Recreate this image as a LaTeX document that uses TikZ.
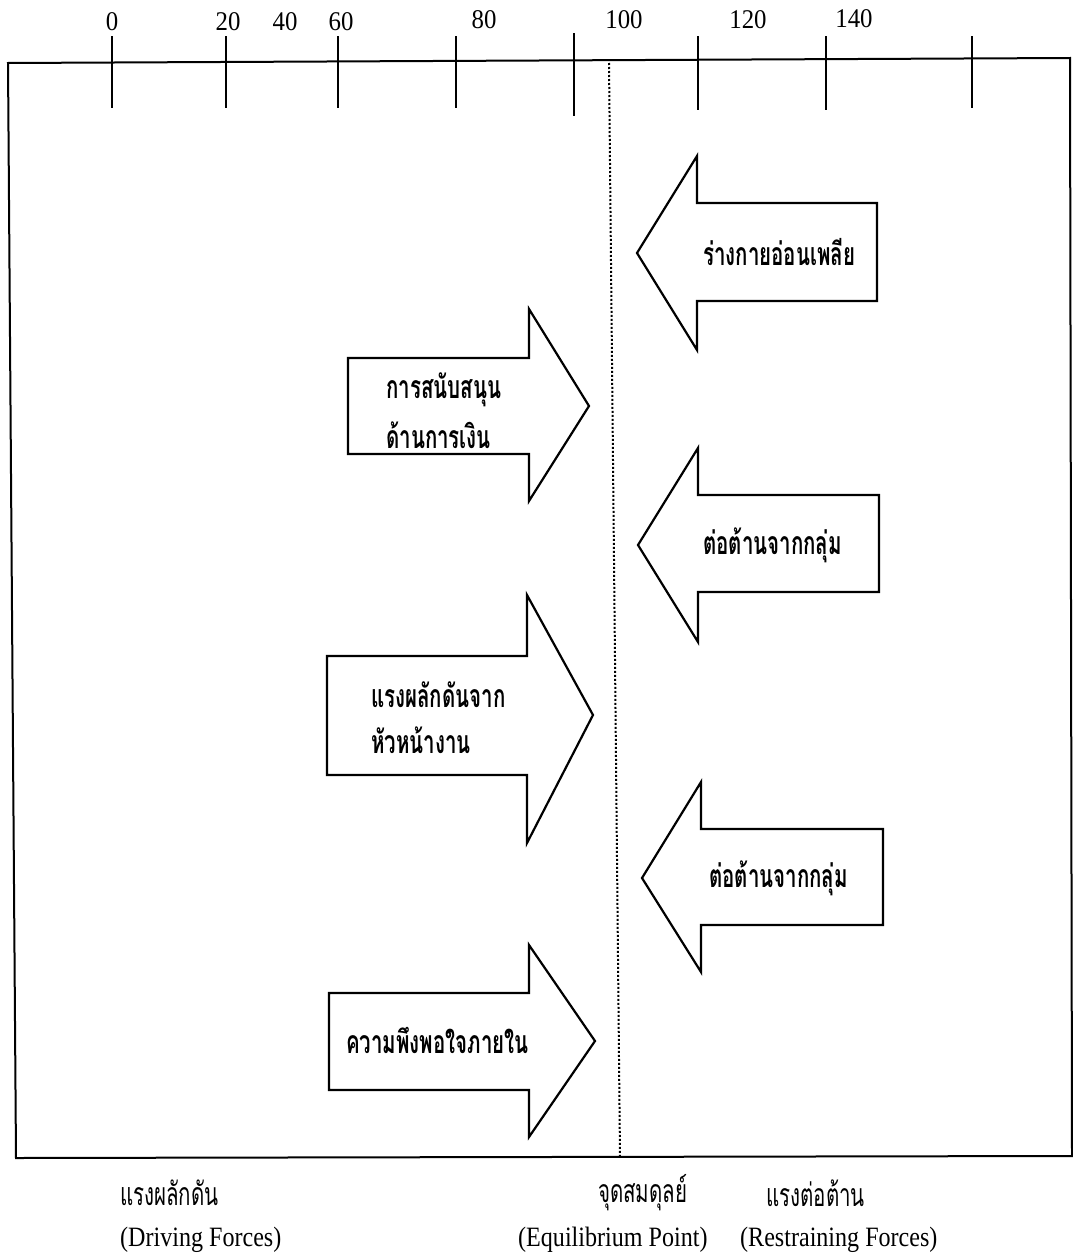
\documentclass[tikz,border=0pt]{standalone}
\usepackage{fontspec}
\setmainfont{Liberation Serif}[FakeStretch=0.86]
\newfontfamily\numfont{Liberation Serif}[FakeStretch=0.92]
\newfontfamily\thaifont[Script=Thai,FakeStretch=0.64]{Loma}
\begin{document}
\begin{tikzpicture}[x=1pt,y=-1pt,
  frameline/.style={line width=2pt},
  tickline/.style={line width=2pt},
  forcearrow/.style={line width=2.2pt, line join=miter, fill=white},
  numlabel/.style={font=\numfont\fontsize{27}{28}\selectfont, inner sep=0pt},
  arrowtext/.style={font=\thaifont\bfseries\fontsize{32}{34}\selectfont, inner sep=0pt, anchor=west},
  thailabel/.style={font=\thaifont\fontsize{32}{34}\selectfont, inner sep=0pt, anchor=west},
  englabel/.style={font=\fontsize{28}{29}\selectfont, inner sep=0pt, anchor=west}]
\useasboundingbox (0,0) rectangle (1073,1258);
\fill[white] (0,0) rectangle (1073,1258);
% frame
\draw[frameline] (8,63) -- (1070,58) -- (1072,1156) -- (16,1158) -- cycle;
% ticks
\foreach \x/\a/\b in {112/36/108, 226/36/108, 338/36/108, 456/36/108, 574/33/116, 698/36/110, 826/36/110, 972/36/108}
  \draw[tickline] (\x,\a) -- (\x,\b);
% numbers
\node[numlabel] (n0) at (112,22) {0};
\node[numlabel] (n20) at (228,22) {20};
\node[numlabel] (n40) at (285,22) {40};
\node[numlabel] (n60) at (341,22) {60};
\node[numlabel] (n80) at (484,20) {80};
\node[numlabel] (n100) at (624,20) {100};
\node[numlabel] (n120) at (748,20) {120};
\node[numlabel] (n140) at (854,19) {140};
% equilibrium line
\draw[line width=2pt, dotted] (609,63) -- (620,1157);
% driving arrows
\draw[forcearrow] (348,358) -- (529,358) -- (529,309) -- (589,406) -- (529,501) -- (529,454) -- (348,454) -- cycle;
\draw[forcearrow] (327,656) -- (527,656) -- (527,595) -- (593,715) -- (527,843) -- (527,775) -- (327,775) -- cycle;
\draw[forcearrow] (329,993) -- (529,993) -- (529,945) -- (595,1041) -- (529,1137) -- (529,1090) -- (329,1090) -- cycle;
% restraining arrows
\draw[forcearrow] (877,203) -- (697,203) -- (697,156) -- (637,253) -- (697,350) -- (697,301) -- (877,301) -- cycle;
\draw[forcearrow] (879,495) -- (698,495) -- (698,448) -- (638,545) -- (698,642) -- (698,592) -- (879,592) -- cycle;
\draw[forcearrow] (883,829) -- (701,829) -- (701,782) -- (642,878) -- (701,972) -- (701,925) -- (883,925) -- cycle;
% arrow texts
\node[arrowtext] (t1a) at (386,390) {การสนับสนุน};
\node[arrowtext] (t1b) at (386,435) {ด้านการเงิน};
\node[arrowtext] (t2a) at (371,695) {แรงผลักดันจาก};
\node[arrowtext] (t2b) at (371,740) {หัวหน้างาน};
\node[arrowtext] (t3) at (346,1040) {ความพึงพอใจภายใน};
\node[arrowtext] (t4) at (703,252) {ร่างกายอ่อนเพลีย};
\node[arrowtext] (t5) at (703,545) {ต่อต้านจากกลุ่ม};
\node[arrowtext] (t6) at (709,878) {ต่อต้านจากกลุ่ม};
% bottom labels
\node[thailabel] (b1) at (120,1193) {แรงผลักดัน};
\node[englabel] (b2) at (120,1240) {(Driving Forces)};
\node[thailabel] (b3) at (598,1193) {จุดสมดุลย์};
\node[englabel] (b4) at (518,1240) {(Equilibrium Point)};
\node[thailabel] (b5) at (766,1193) {แรงต่อต้าน};
\node[englabel] (b6) at (740,1240) {(Restraining Forces)};
\end{tikzpicture}
\end{document}
